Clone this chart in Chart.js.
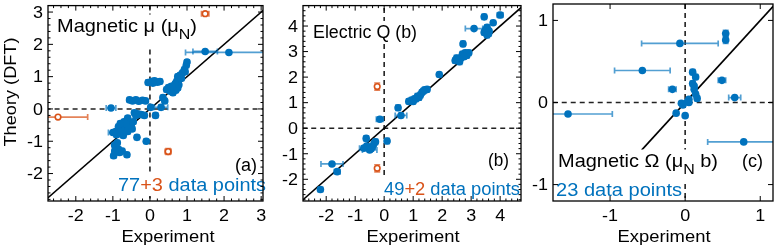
<!DOCTYPE html>
<html>
<head>
<meta charset="utf-8">
<script src="https://cdn.jsdelivr.net/npm/chart.js@4.4.1/dist/chart.umd.min.js"></script>
<style>
  html, body { margin: 0; padding: 0; background: #fff; }
  #wrap { position: relative; width: 777px; height: 249px; overflow: hidden; }
  canvas { position: absolute; left: 0; top: 0; }
</style>
</head>
<body>
<div id="wrap">
  <canvas id="pa" width="777" height="249"></canvas>
  <canvas id="pb" width="777" height="249"></canvas>
  <canvas id="pc" width="777" height="249"></canvas>
</div>
<script>
// ---- panel (a): magnetic moment ----
const aBlueX = [1.49, 2.13, 1.0, 0.98, 0.93, 0.88, 0.82, 0.75, 0.95, 0.72,
  0.78, 0.66, 0.6, 0.7, 0.55, 0.5, 0.62, 0.75, 0.68, 0.35,
  0.4, 0.3, 0.05, 0.12, 0.2, 0.27, 0.08, 0.15, 0.02, -0.55,
  -0.47, -0.38, -0.3, -0.2, -0.12, -1.05, -0.42, -0.33, -0.24, -0.15,
  -0.38, -1.0, -0.92, -0.85, -0.8, -0.75, -0.7, -0.65, -0.6, -0.55,
  -0.5, -0.72, -0.85, -0.62, -0.45, -0.78, -0.68, -0.58, -0.9, -0.35,
  -0.1, -0.95, -0.98, -0.82, -0.62, -0.85, -0.95, -0.88, -0.75, -0.6,
  -0.48, 0.45, 0.85, -0.05, -0.66, -0.8, 0.58];
const aBlueY = [1.78, 1.75, 1.45, 1.35, 1.22, 1.12, 1.05, 1.0, 1.15, 0.85,
  0.75, 0.72, 0.62, 0.58, 0.55, 0.66, 0.5, 0.65, 0.78, 0.35,
  0.25, 0.05, 0.85, 0.87, 0.83, 0.85, 0.8, -0.2, 0.05, 0.28,
  0.25, 0.28, 0.24, 0.27, 0.25, 0.03, -0.12, -0.15, -0.17, -0.2,
  -0.2, -0.73, -0.7, -0.75, -0.62, -0.5, -0.4, -0.55, -0.7, -0.45,
  -0.55, -0.82, -0.55, -0.35, -0.4, -0.7, -0.65, -0.6, -0.8, -0.88,
  -1.0, -1.12, -1.45, -1.35, -1.42, -1.25, -1.3, -1.05, -1.3, -0.28,
  -0.62, 0.6, 0.95, 0.82, -0.45, -0.45, 0.7];
const aBlueXErr = [0.33, 1.17, 0.06, 0.06, 0.06, 0.06, 0.06, 0.06, 0.06, 0.06,
  0.06, 0.06, 0.06, 0.06, 0.06, 0.06, 0.06, 0.06, 0.06, 0.06,
  0.06, 0.18, 0.06, 0.06, 0.06, 0.06, 0.06, 0.06, 0.06, 0.06,
  0.06, 0.06, 0.06, 0.06, 0.06, 0.13, 0.06, 0.06, 0.06, 0.06,
  0.06, 0.12, 0.06, 0.06, 0.06, 0.06, 0.06, 0.06, 0.06, 0.06,
  0.06, 0.06, 0.06, 0.06, 0.06, 0.06, 0.06, 0.06, 0.06, 0.06,
  0.06, 0.06, 0.06, 0.06, 0.06, 0.06, 0.06, 0.06, 0.06, 0.06,
  0.06, 0.06, 0.06, 0.06, 0.06, 0.06, 0.06];
const aBlueYErr = [0, 0, 0.07, 0.07, 0.07, 0.07, 0.07, 0.07, 0.07, 0.07,
  0.07, 0.07, 0.07, 0.07, 0.07, 0.07, 0.07, 0.07, 0.07, 0.07,
  0.07, 0.07, 0.07, 0.07, 0.07, 0.07, 0.07, 0.07, 0.07, 0.07,
  0.07, 0.07, 0.07, 0.07, 0.07, 0, 0.07, 0.07, 0.07, 0.07,
  0.07, 0, 0.07, 0.07, 0.07, 0.07, 0.07, 0.07, 0.07, 0.07,
  0.07, 0.07, 0.07, 0.07, 0.07, 0.07, 0.07, 0.07, 0.07, 0.07,
  0.07, 0.07, 0.07, 0.07, 0.07, 0.07, 0.07, 0.07, 0.07, 0.07,
  0.07, 0.07, 0.07, 0.07, 0.07, 0.07, 0.07];
const aOrangeX = [1.49, -2.48, 0.49];
const aOrangeY = [2.95, -0.25, -1.32];
const aOrangeXErr = [0.1, 0.8, 0.08];
const aOrangeYErr = [0, 0, 0.09];
const aTicks = [-2, -1, 0, 1, 2, 3];
const aDiag = [-3.2, 3.4];

// ---- panel (b): electric quadrupole ----
const bBlueX = [3.45, 4.0, 3.76, 3.1, 3.45, 3.5, 3.6, 3.55, 3.62, 2.72,
  2.45, 2.55, 2.65, 2.7, 2.8, 2.85, 2.92, 2.6, 1.9, 0.85,
  0.95, 1.05, 1.15, 1.25, 1.3, 1.4, 1.48, 1.2, 1.35, 1.0,
  0.48, 0.58, -0.15, 0.1, -0.3, -0.62, -0.4, -0.7, -0.5, -0.6,
  -1.8, -1.62, -2.2, 3.55, 2.5, 1.1, -0.35, -0.45, 2.75];
const bBlueY = [4.36, 4.43, 4.13, 3.9, 3.75, 3.85, 3.7, 3.95, 3.8, 3.3,
  2.65, 2.7, 2.75, 2.9, 2.95, 2.85, 2.95, 2.6, 2.1, 1.05,
  1.1, 1.15, 1.25, 1.3, 1.4, 1.5, 1.52, 1.2, 1.45, 1.05,
  0.8, 0.5, 0.35, -0.5, -0.53, -0.4, -0.72, -0.78, -0.85, -0.7,
  -1.4, -1.7, -2.4, 3.65, 2.75, 1.15, -0.6, -0.8, 2.8];
const bBlueXErr = [0.05, 0.1, 0.05, 0.3, 0.05, 0.05, 0.05, 0.05, 0.05, 0.05,
  0.07, 0.07, 0.07, 0.07, 0.07, 0.07, 0.07, 0.07, 0.05, 0.07,
  0.07, 0.07, 0.07, 0.07, 0.07, 0.07, 0.07, 0.07, 0.07, 0.07,
  0.05, 0.2, 0.12, 0.05, 0.05, 0.05, 0.05, 0.15, 0.25, 0.05,
  0.38, 0.1, 0.08, 0.05, 0.07, 0.07, 0.05, 0.05, 0.07];
const bBlueYErr = [0.1, 0.1, 0.08, 0, 0.1, 0.1, 0.1, 0.1, 0.1, 0.1,
  0.1, 0.1, 0.1, 0.1, 0.1, 0.1, 0.1, 0.1, 0.08, 0.1,
  0.1, 0.1, 0.1, 0.1, 0.1, 0.1, 0.1, 0.1, 0.1, 0.1,
  0.1, 0.08, 0.08, 0.1, 0.1, 0.1, 0.1, 0.08, 0.08, 0.1,
  0, 0.08, 0.08, 0.1, 0.1, 0.1, 0.1, 0.1, 0.1];
const bOrangeX = [-0.24, -0.24];
const bOrangeY = [1.63, -1.57];
const bOrangeXErr = [0, 0];
const bOrangeYErr = [0.14, 0.14];
const bTicks = [-2, -1, 0, 1, 2, 3, 4];
const bDiag = [-3.2, 5];

// ---- panel (c): magnetic octupole ----
const cBlueX = [0.54, 0.54, -0.07, -0.57, -0.17, 0.1, 0.14, 0.1, 0.12, 0.14,
  0.16, 0.49, 0.66, 0.05, 0.05, -0.05, -0.03, -0.12, 0.0, -1.56,
  0.78, 0.03, 0.12];
const cBlueY = [0.84, 0.76, 0.72, 0.39, 0.16, 0.37, 0.31, 0.23, 0.16, 0.1,
  0.05, 0.27, 0.06, 0.04, 0.0, -0.01, -0.03, -0.13, -0.16, -0.14,
  -0.48, 0.01, 0.2];
const cBlueXErr = [0.02, 0.02, 0.51, 0.37, 0.05, 0.02, 0.02, 0.02, 0.02, 0.02,
  0.02, 0.05, 0.08, 0.02, 0.02, 0.02, 0.02, 0.02, 0.02, 0.59,
  0.48, 0.02, 0.02];
const cBlueYErr = [0.04, 0.04, 0, 0, 0, 0.03, 0.03, 0.03, 0.03, 0.03,
  0.03, 0, 0, 0.02, 0.02, 0.02, 0.02, 0.02, 0.02, 0,
  0, 0.02, 0.02];
const cTicks = [-1, 0, 1];
const cDiag = [-0.58, 1.3];

const zeroSpan = [-5, 5];

const W = 777, H = 249;
const FONT = '"Liberation Sans", Arial, sans-serif';
const BLUE = '#0072BD', ORANGE = '#D95319';

const panels = {
  pa: {
    area: [48, 263, 3, 201], xr: [-2.75, 3.05], yr: [-2.85, 3.2], ticks: aTicks, minor: 0.2,
    xLabelX: 168, yLabel: true,
    texts: [
      { runs: [['Magnetic μ (μ', '#000'], ['N', '#000', 1], [')', '#000']], x: 57, y: 32, size: 19, w: 140, bg: true, sub: true },
      { runs: [['(a)', '#000']], x: 235, y: 171, size: 18, w: 22 },
      { runs: [['77', BLUE], ['+3', ORANGE], [' data points', BLUE]], x: 118, y: 191, size: 17.5, w: 148, bg: true }
    ]
  },
  pb: {
    area: [303, 521, 5, 201], xr: [-2.8, 4.72], yr: [-2.85, 4.8], ticks: bTicks, minor: 0.2,
    xLabelX: 413,
    texts: [
      { runs: [['Electric Q (b)', '#000']], x: 313, y: 37.5, size: 18, w: 104, bg: true },
      { runs: [['(b)', '#000']], x: 488, y: 166, size: 18, w: 21 },
      { runs: [['49', BLUE], ['+2', ORANGE], [' data points', BLUE]], x: 384, y: 194.5, size: 17.5, w: 136, bg: true }
    ]
  },
  pc: {
    area: [553, 775, 3, 201], xr: [-1.76, 1.17], yr: [-1.2, 1.2], ticks: cTicks, minor: 0,
    xLabelX: 664,
    texts: [
      { runs: [['Magnetic Ω (μ', '#000'], ['N', '#000', 1], [' b)', '#000']], x: 558, y: 167, size: 19, w: 160, bg: true, sub: true },
      { runs: [['(c)', '#000']], x: 742, y: 167, size: 18, w: 21 },
      { runs: [['23 data points', BLUE]], x: 556, y: 195.5, size: 17.5, w: 126, bg: true }
    ]
  }
};

function pts(xs, ys) { return xs.map((x, i) => ({ x: x, y: ys[i] })); }

function stretchText(ctx, text, x, y, size, sx, align) {
  ctx.font = size + 'px ' + FONT;
  const w = ctx.measureText(text).width * sx;
  let x0 = x;
  if (align === 'center') x0 = x - w / 2;
  if (align === 'right') x0 = x - w;
  ctx.save();
  ctx.translate(x0, y);
  ctx.scale(sx, 1);
  ctx.textAlign = 'left';
  ctx.textBaseline = 'alphabetic';
  ctx.fillText(text, 0, 0);
  ctx.restore();
}

function fitText(ctx, text, x, y, size, width) {
  ctx.font = size + 'px ' + FONT;
  stretchText(ctx, text, x, y, size, width / ctx.measureText(text).width, 'center');
}

function drawRuns(ctx, t) {
  let nat = 0;
  const ws = t.runs.map(r => {
    ctx.font = (r[2] ? t.size * 0.8 : t.size) + 'px ' + FONT;
    const w = ctx.measureText(r[0]).width;
    nat += w;
    return w;
  });
  const sx = t.w / nat;
  if (t.bg) {
    ctx.fillStyle = '#fff';
    const top = t.y - t.size * 0.92;
    const bot = t.y + t.size * (t.sub ? 0.78 : 0.3);
    ctx.fillRect(t.x - 2, top, t.w + 4, bot - top);
  }
  ctx.save();
  ctx.translate(t.x, t.y);
  ctx.scale(sx, 1);
  ctx.textBaseline = 'alphabetic';
  let cx = 0;
  t.runs.forEach((r, i) => {
    ctx.font = (r[2] ? t.size * 0.8 : t.size) + 'px ' + FONT;
    ctx.fillStyle = r[1];
    ctx.fillText(r[0], cx, r[2] ? t.size * 0.38 : 0);
    cx += ws[i];
  });
  ctx.restore();
}

const errorBars = {
  id: 'errorBars',
  beforeDatasetDraw(chart, args) {
    const ds = chart.data.datasets[args.index];
    if (!ds.errX) return;
    const ctx = chart.ctx, ca = chart.chartArea;
    const sx = chart.scales.x, sy = chart.scales.y;
    const cap = 3;
    ctx.save();
    ctx.beginPath();
    ctx.rect(ca.left, ca.top, ca.right - ca.left, ca.bottom - ca.top);
    ctx.clip();
    ctx.strokeStyle = ds.errColor;
    ctx.lineWidth = 1.7;
    ds.data.forEach((p, i) => {
      const px = sx.getPixelForValue(p.x), py = sy.getPixelForValue(p.y);
      const ex = ds.errX[i], ey = ds.errY[i];
      ctx.beginPath();
      if (ex) {
        const l = sx.getPixelForValue(p.x - ex), r = sx.getPixelForValue(p.x + ex);
        if (r - l > 2) {
          ctx.moveTo(l, py); ctx.lineTo(r, py);
          ctx.moveTo(l, py - cap); ctx.lineTo(l, py + cap);
          ctx.moveTo(r, py - cap); ctx.lineTo(r, py + cap);
        }
      }
      if (ey) {
        const t = sy.getPixelForValue(p.y + ey), b = sy.getPixelForValue(p.y - ey);
        if (b - t > 2) {
          ctx.moveTo(px, t); ctx.lineTo(px, b);
          ctx.moveTo(px - cap, t); ctx.lineTo(px + cap, t);
          ctx.moveTo(px - cap, b); ctx.lineTo(px + cap, b);
        }
      }
      ctx.stroke();
    });
    ctx.restore();
  }
};

const decor = {
  id: 'decor',
  afterDraw(chart) {
    const cfg = panels[chart.canvas.id];
    const ctx = chart.ctx, ca = chart.chartArea;
    const sx = chart.scales.x, sy = chart.scales.y;

    cfg.texts.forEach(t => drawRuns(ctx, t));

    // frame
    ctx.save();
    ctx.strokeStyle = '#000';
    ctx.lineWidth = 1.3;
    ctx.strokeRect(ca.left, ca.top, ca.right - ca.left, ca.bottom - ca.top);

    // inward ticks on all four sides
    ctx.lineWidth = 1;
    ctx.beginPath();
    const mark = (scale, v, len) => {
      const p = scale.getPixelForValue(v);
      if (scale === sx) {
        if (p < ca.left + 1 || p > ca.right - 1) return;
        ctx.moveTo(p, ca.bottom); ctx.lineTo(p, ca.bottom - len);
        ctx.moveTo(p, ca.top); ctx.lineTo(p, ca.top + len);
      } else {
        if (p < ca.top + 1 || p > ca.bottom - 1) return;
        ctx.moveTo(ca.left, p); ctx.lineTo(ca.left + len, p);
        ctx.moveTo(ca.right, p); ctx.lineTo(ca.right - len, p);
      }
    };
    [sx, sy].forEach(scale => {
      scale.ticks.forEach(t => mark(scale, t.value, 5));
      if (cfg.minor) {
        for (let k = Math.ceil(scale.min / cfg.minor); k * cfg.minor <= scale.max; k++) {
          const v = k * cfg.minor;
          if (Math.abs(v - Math.round(v)) > 1e-6) mark(scale, v, 2.5);
        }
      }
    });
    ctx.stroke();

    // tick labels
    ctx.fillStyle = '#000';
    sx.ticks.forEach(t => stretchText(ctx, String(t.value), sx.getPixelForValue(t.value), 221, 16, 1.12, 'center'));
    sy.ticks.forEach(t => stretchText(ctx, String(t.value), ca.left - 5, sy.getPixelForValue(t.value) + 5.8, 16, 1.12, 'right'));

    // axis titles
    fitText(ctx, 'Experiment', cfg.xLabelX, 241.5, 16.5, 93);
    if (cfg.yLabel) {
      ctx.save();
      ctx.translate(16, 92);
      ctx.rotate(-Math.PI / 2);
      fitText(ctx, 'Theory (DFT)', 0, 0, 16.5, 109);
      ctx.restore();
    }
    ctx.restore();
  }
};

function makePanel(id, blue, orange, diag) {
  const cfg = panels[id];
  const [L, R, T, B] = cfg.area;
  const tickList = cfg.ticks;
  const datasets = [];
  if (orange) {
    datasets.push({
      data: pts(orange[0], orange[1]), errX: orange[2], errY: orange[3], errColor: 'rgba(217,83,25,0.72)',
      pointRadius: 2.8, pointBackgroundColor: '#fff', pointBorderColor: ORANGE, pointBorderWidth: 1.6, order: 0
    });
  }
  datasets.push({
    data: pts(blue[0], blue[1]), errX: blue[2], errY: blue[3], errColor: 'rgba(0,114,189,0.68)',
    pointRadius: 3.8, pointBackgroundColor: BLUE, pointBorderWidth: 0, order: 1
  });
  datasets.push({
    type: 'line', data: diag.map(v => ({ x: v, y: v })), borderColor: '#000', borderWidth: 1.6,
    pointRadius: 0, fill: false, order: 2
  });
  datasets.push({
    type: 'line', data: zeroSpan.map(v => ({ x: 0, y: v })), borderColor: '#222', borderWidth: 1.6,
    borderDash: [5, 4], pointRadius: 0, fill: false, order: 3
  });
  datasets.push({
    type: 'line', data: zeroSpan.map(v => ({ x: v, y: 0 })), borderColor: '#222', borderWidth: 1.6,
    borderDash: [5, 4], pointRadius: 0, fill: false, order: 3
  });

  new Chart(document.getElementById(id), {
    type: 'scatter',
    data: { datasets: datasets },
    options: {
      responsive: false,
      animation: false,
      events: [],
      layout: { padding: { left: L, right: W - R, top: T, bottom: H - B } },
      plugins: { legend: { display: false }, tooltip: { enabled: false } },
      scales: {
        x: {
          type: 'linear', display: false, min: cfg.xr[0], max: cfg.xr[1],
          afterBuildTicks: s => { s.ticks = tickList.map(v => ({ value: v })); }
        },
        y: {
          type: 'linear', display: false, min: cfg.yr[0], max: cfg.yr[1],
          afterBuildTicks: s => { s.ticks = tickList.map(v => ({ value: v })); }
        }
      }
    },
    plugins: [errorBars, decor]
  });
}

makePanel('pa', [aBlueX, aBlueY, aBlueXErr, aBlueYErr], [aOrangeX, aOrangeY, aOrangeXErr, aOrangeYErr], aDiag);
makePanel('pb', [bBlueX, bBlueY, bBlueXErr, bBlueYErr], [bOrangeX, bOrangeY, bOrangeXErr, bOrangeYErr], bDiag);
makePanel('pc', [cBlueX, cBlueY, cBlueXErr, cBlueYErr], null, cDiag);
</script>
</body>
</html>
